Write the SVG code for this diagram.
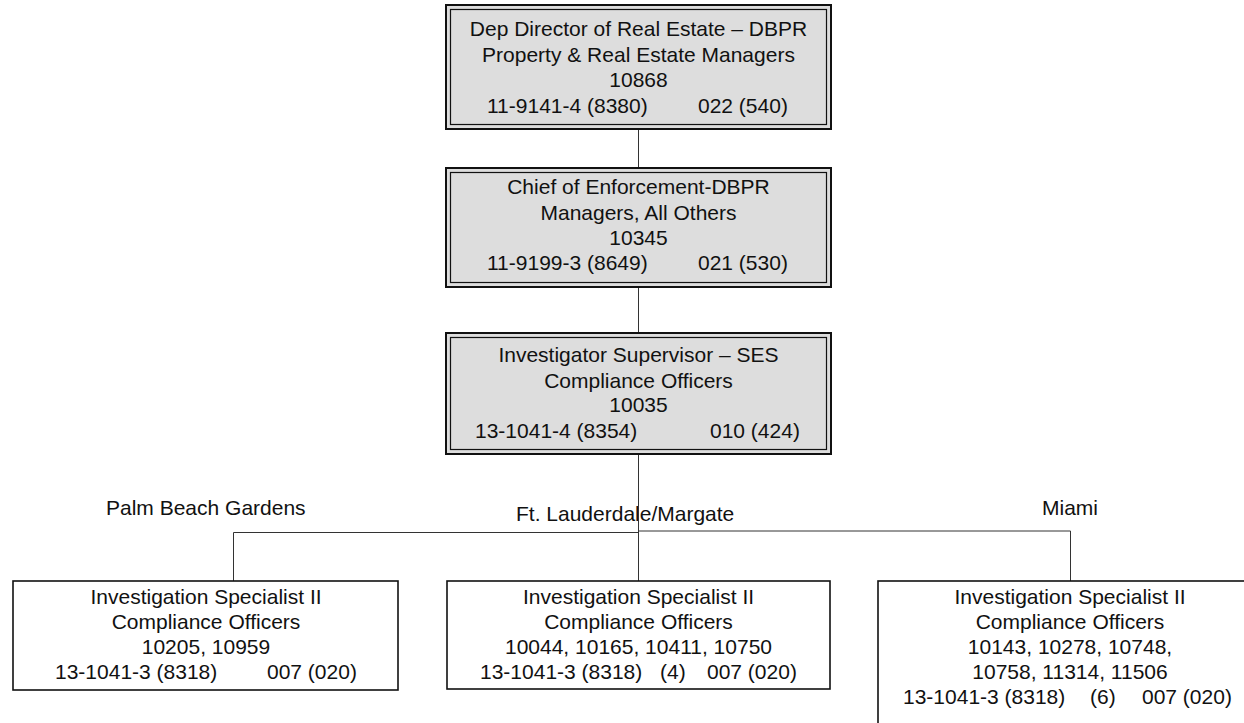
<svg xmlns="http://www.w3.org/2000/svg" width="1244" height="723" viewBox="0 0 1244 723">
  <style>
    text { font-family: "Liberation Sans", Arial, sans-serif; font-size: 21px; fill: #111; }
    .c { text-anchor: middle; }
    .outer { fill: #dddddd; stroke: #111; stroke-width: 2; }
    .inner { fill: none; stroke: #111; stroke-width: 1.2; }
    .plain { fill: #ffffff; stroke: #111; stroke-width: 1.6; }
    .link { fill: none; stroke: #333; stroke-width: 1; }
  </style>
  <rect width="1244" height="723" fill="#ffffff"/>

  <!-- branch labels -->
  <g id="labels">
    <text x="106" y="515">Palm Beach Gardens</text>
    <text x="516" y="521">Ft. Lauderdale/Margate</text>
    <text x="1042" y="515">Miami</text>
  </g>

  <!-- connectors -->
  <g id="connectors">
    <line class="link" x1="638.5" y1="130" x2="638.5" y2="167"/>
    <line class="link" x1="638.5" y1="288" x2="638.5" y2="332"/>
    <line class="link" x1="638.5" y1="455" x2="638.5" y2="532" stroke-width="1.6"/>
    <line class="link" x1="638.5" y1="532" x2="638.5" y2="581"/>
    <polyline class="link" points="638.5,532.5 233.5,532.5 233.5,581"/>
    <polyline class="link" points="638.5,531 1070.5,531 1070.5,581"/>
  </g>

  <!-- level 1 -->
  <g id="dep-director">
    <rect class="outer" x="446" y="5" width="385" height="124"/>
    <rect class="inner" x="450.5" y="9.5" width="376" height="115"/>
    <text class="c" x="638.5" y="36">Dep Director of Real Estate – DBPR</text>
    <text class="c" x="638.5" y="62">Property &amp; Real Estate Managers</text>
    <text class="c" x="638.5" y="87">10868</text>
    <text x="487" y="113">11-9141-4 (8380)</text>
    <text x="698" y="113">022 (540)</text>
  </g>

  <!-- level 2 -->
  <g id="chief-enforcement">
    <rect class="outer" x="446" y="168" width="385" height="119"/>
    <rect class="inner" x="450.5" y="172.5" width="376" height="110"/>
    <text class="c" x="638.5" y="194">Chief of Enforcement-DBPR</text>
    <text class="c" x="638.5" y="220">Managers, All Others</text>
    <text class="c" x="638.5" y="245">10345</text>
    <text x="487" y="270">11-9199-3 (8649)</text>
    <text x="698" y="270">021 (530)</text>
  </g>

  <!-- level 3 -->
  <g id="investigator-supervisor">
    <rect class="outer" x="446" y="333" width="385" height="121"/>
    <rect class="inner" x="450.5" y="337.5" width="376" height="112"/>
    <text class="c" x="638.5" y="362">Investigator Supervisor – SES</text>
    <text class="c" x="638.5" y="388">Compliance Officers</text>
    <text class="c" x="638.5" y="412">10035</text>
    <text x="475" y="438">13-1041-4 (8354)</text>
    <text x="710" y="438">010 (424)</text>
  </g>

  <!-- level 4: field offices -->
  <g id="palm-beach-gardens">
    <rect class="plain" x="13" y="581" width="385" height="109"/>
    <text class="c" x="206" y="604">Investigation Specialist II</text>
    <text class="c" x="206" y="629">Compliance Officers</text>
    <text class="c" x="206" y="654">10205, 10959</text>
    <text x="55" y="679">13-1041-3 (8318)</text>
    <text x="267" y="679">007 (020)</text>
  </g>

  <g id="ft-lauderdale-margate">
    <rect class="plain" x="447" y="581" width="383" height="108"/>
    <text class="c" x="638.5" y="604">Investigation Specialist II</text>
    <text class="c" x="638.5" y="629">Compliance Officers</text>
    <text class="c" x="638.5" y="654">10044, 10165, 10411, 10750</text>
    <text x="480" y="679">13-1041-3 (8318)</text>
    <text x="660" y="679">(4)</text>
    <text x="707" y="679">007 (020)</text>
  </g>

  <g id="miami">
    <rect class="plain" x="878" y="581" width="400" height="200"/>
    <text class="c" x="1070" y="604">Investigation Specialist II</text>
    <text class="c" x="1070" y="629">Compliance Officers</text>
    <text class="c" x="1070" y="654">10143, 10278, 10748,</text>
    <text class="c" x="1070" y="679">10758, 11314, 11506</text>
    <text x="903" y="704">13-1041-3 (8318)</text>
    <text x="1090" y="704">(6)</text>
    <text x="1142" y="704">007 (020)</text>
  </g>
</svg>
